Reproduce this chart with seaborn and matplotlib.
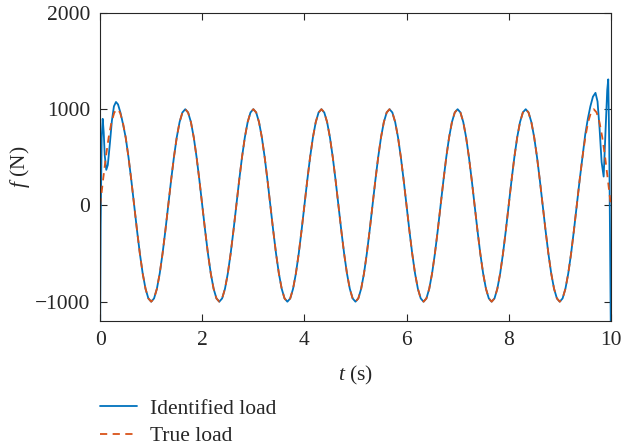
import numpy as np
import seaborn as sns
from matplotlib import pyplot as plt

t_true = np.linspace(0, 10, 181)
true_load = [
    0, 259, 500, 707, 866, 966, 1000, 966, 866, 707, 500, 259, 0, -259, -500, -707, -866, -966, -1000, -966, -866, -707, -500, -259,
    0, 259, 500, 707, 866, 966, 1000, 966, 866, 707, 500, 259, 0, -259, -500, -707, -866, -966, -1000, -966, -866, -707, -500, -259,
    0, 259, 500, 707, 866, 966, 1000, 966, 866, 707, 500, 259, 0, -259, -500, -707, -866, -966, -1000, -966, -866, -707, -500, -259,
    0, 259, 500, 707, 866, 966, 1000, 966, 866, 707, 500, 259, 0, -259, -500, -707, -866, -966, -1000, -966, -866, -707, -500, -259,
    0, 259, 500, 707, 866, 966, 1000, 966, 866, 707, 500, 259, 0, -259, -500, -707, -866, -966, -1000, -966, -866, -707, -500, -259,
    0, 259, 500, 707, 866, 966, 1000, 966, 866, 707, 500, 259, 0, -259, -500, -707, -866, -966, -1000, -966, -866, -707, -500, -259,
    0, 259, 500, 707, 866, 966, 1000, 966, 866, 707, 500, 259, 0, -259, -500, -707, -866, -966, -1000, -966, -866, -707, -500, -259,
    0, 259, 500, 707, 866, 966, 1000, 966, 866, 707, 500, 259, 0,
]

# identified load: edge effects at both ends, follows the true load in between
t_id_start = [0, 0.01, 0.03, 0.05, 0.07, 0.09, 0.12, 0.15, 0.19, 0.23, 0.27, 0.31, 0.35, 0.40, 0.45]
f_id_start = [-1300, -200, 700, 900, 760, 520, 370, 420, 640, 880, 1030, 1075, 1050, 960, 840]
t_id_end = [9.50, 9.55, 9.60, 9.65, 9.70, 9.74, 9.78, 9.82, 9.86, 9.90, 9.93, 9.95, 9.97, 9.985, 10.0]
f_id_end = [740, 900, 1030, 1130, 1170, 1080, 800, 450, 300, 800, 1200, 1310, 600, -300, -1300]

t_ident = t_id_start + list(t_true[9:171]) + t_id_end
ident_load = f_id_start + true_load[9:171] + f_id_end

sns.set_style('ticks')
plt.rcParams['font.family'] = ['Liberation Serif', 'DejaVu Serif']
plt.rcParams['mathtext.fontset'] = 'custom'
plt.rcParams['mathtext.rm'] = 'Liberation Serif'
plt.rcParams['mathtext.it'] = 'Liberation Serif:italic'
plt.rcParams['font.size'] = 15

fig = plt.figure(figsize=(6.22, 4.47), dpi=100)
ax = fig.add_axes([0.161, 0.282, 0.821, 0.689])

sns.lineplot(x=t_ident, y=ident_load, ax=ax, color='#0072BD', lw=1.3,
             estimator=None, sort=False, label='Identified load')
sns.lineplot(x=list(t_true), y=true_load, ax=ax, color='#D95319', lw=1.3,
             estimator=None, sort=False, label='True load', linestyle=(0, (4, 3)))

ax.set_xlim(0, 10)
ax.set_ylim(-1200, 2000)
ax.set_xticks([0, 2, 4, 6, 8, 10])
ax.set_yticks([-1000, 0, 1000, 2000])
ax.set_xlabel('$t$ (s)', fontsize=15.5, labelpad=10)
ax.set_ylabel('$f$ (N)', fontsize=15.5, labelpad=2)
ax.tick_params(direction='in', top=True, right=True, length=5, width=0.8,
               labelsize=15.5, colors='#262626', pad=7)
for s in ax.spines.values():
    s.set_visible(True)
    s.set_linewidth(0.8)
    s.set_color('#262626')

ax.get_legend().remove()
h, l = ax.get_legend_handles_labels()
fig.legend(h, l, loc='upper left', bbox_to_anchor=(0.161, 0.108), frameon=False,
           borderaxespad=0, borderpad=0, handlelength=1.7, handletextpad=0.6,
           labelspacing=0.35, fontsize=15.5)

fig.savefig('out.png', dpi=100)
